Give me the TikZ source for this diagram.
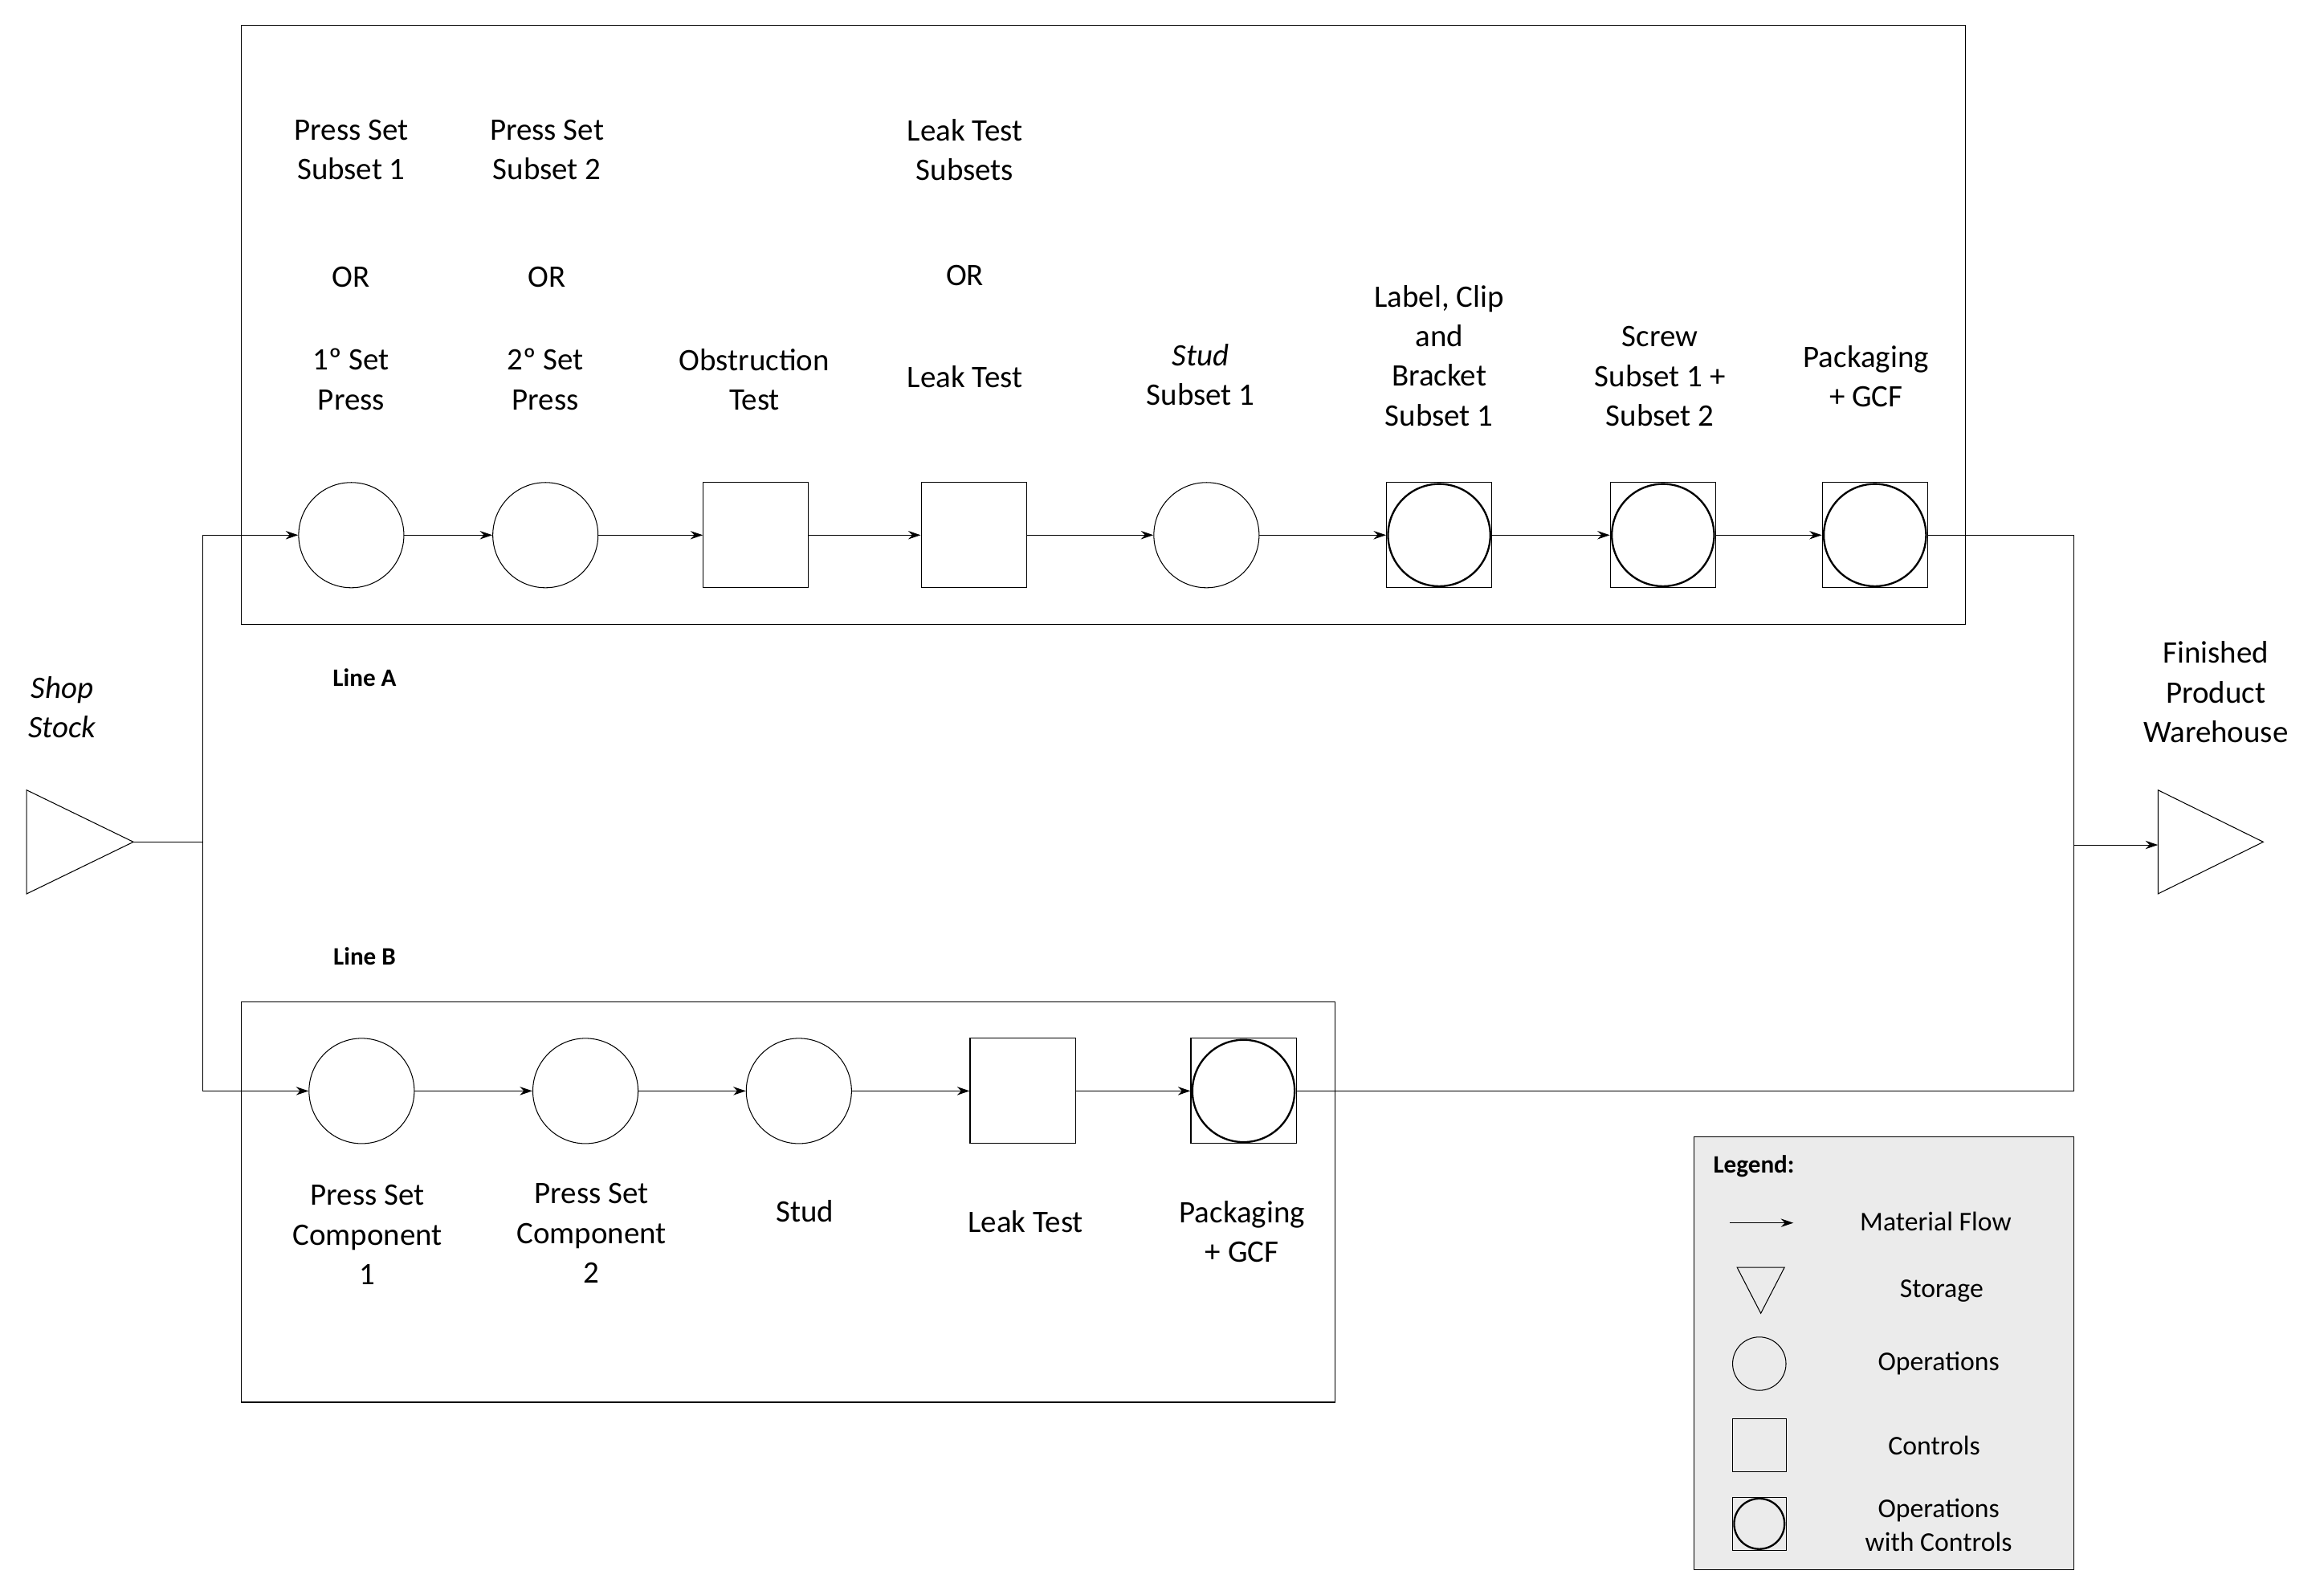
\documentclass[tikz,border=0pt]{standalone}
\usepackage{fontspec}
\setmainfont{Carlito}
\usetikzlibrary{arrows.meta}
\begin{document}
\begin{tikzpicture}[x=0.025cm,y=-0.025cm,
  every node/.style={font=\fontsize{15}{19}\selectfont,align=center},
  op/.style={circle,draw,minimum size=71*0.025cm,inner sep=0},
  ctl/.style={rectangle,draw,minimum size=71*0.025cm,inner sep=0},
  oc/.style={rectangle,draw,minimum size=71*0.025cm,inner sep=0,
     append after command={node[circle,draw,line width=0.9pt,minimum size=69*0.025cm,at=(\tikzlastnode.center)]{}}},
  fl/.style={-{Stealth[length=6pt,width=4pt]}},
  bl/.style={font=\fontsize{12}{14}\selectfont\bfseries}]
\useasboundingbox (0,0) rectangle (1568,1076);
\draw (163,17) rectangle (1326,421);
\draw (163,676) rectangle (901,946);
% row A
\node[op] (a1) at (237,361) {};
\node[op] (a2) at (368,361) {};
\node[ctl] (a3) at (510,361) {};
\node[ctl] (a4) at (657,361) {};
\node[op] (a5) at (814,361) {};
\node[oc] (a6) at (971,361) {};
\node[oc] (a7) at (1122,361) {};
\node[oc] (a8) at (1265,361) {};
% row B
\node[op] (b1) at (244,736) {};
\node[op] (b2) at (395,736) {};
\node[op] (b3) at (539,736) {};
\node[ctl] (b4) at (690,736) {};
\node[oc] (b5) at (839,736) {};
% storages
\draw (18,533) -- (18,603) -- (90,568) -- cycle;
\coordinate (ss) at (90,568);
\draw (1456,533) -- (1456,603) -- (1527,568) -- cycle;
\coordinate (fw) at (1456,570);
\coordinate (j) at (137,568);
\coordinate (r) at (1399,570);
\draw (ss) -- (j);
\draw[fl] (j) |- (a1);
\draw[fl] (j) |- (b1);
\draw[fl] (a1)--(a2); \draw[fl] (a2)--(a3); \draw[fl] (a3)--(a4); \draw[fl] (a4)--(a5);
\draw[fl] (a5)--(a6); \draw[fl] (a6)--(a7); \draw[fl] (a7)--(a8);
\draw[fl] (b1)--(b2); \draw[fl] (b2)--(b3); \draw[fl] (b3)--(b4); \draw[fl] (b4)--(b5);
\draw (a8.east) -| (r);
\draw (b5.east) -| (r);
\draw[fl] (r) -- (fw);
% labels A
\node at (237,101) {Press Set\\Subset 1};
\node at (237,187) {OR};
\node at (237,256) {1º Set\\Press};
\node at (369,101) {Press Set\\Subset 2};
\node at (369,187) {OR};
\node at (368,256) {2º Set\\Press};
\node at (509,256) {Obstruction\\Test};
\node at (651,101) {Leak Test\\Subsets};
\node at (651,186) {OR};
\node at (651,254) {Leak Test};
\node at (810,253) {\textit{Stud}\\Subset 1};
\node at (971,240) {Label, Clip\\and\\Bracket\\Subset 1};
\node at (1120,254) {Screw\\Subset 1 +\\Subset 2};
\node at (1259,254) {Packaging\\+ GCF};
% labels B
\node at (248,833) {Press Set\\Component\\1};
\node at (399,832) {Press Set\\Component\\2};
\node at (543,817) {Stud};
\node at (692,824) {Leak Test};
\node at (838,831) {Packaging\\+ GCF};
\node[bl] at (246,457) {Line A};
\node[bl] at (246,645) {Line B};
\node at (42,477) {\textit{Shop}\\\textit{Stock}};
\node at (1495,467) {Finished\\Product\\Warehouse};
% legend
\draw[fill=black!8] (1143,767) rectangle (1399,1059);
\node[bl,anchor=west] at (1151,787) {Legend:};
\coordinate (l1) at (1167,825); \coordinate (l2) at (1210,825);
\draw[fl] (l1) -- (l2);
\node[font=\fontsize{13}{16}\selectfont] at (1306,824) {Material Flow};
\draw (1172,855) -- (1204,855) -- (1188,886) -- cycle;
\node[font=\fontsize{13}{16}\selectfont] at (1310,871) {Storage};
\node[circle,draw,minimum size=36*0.025cm] at (1187,920) {};
\node[font=\fontsize{13}{16}\selectfont] at (1308,920) {Operations};
\node[rectangle,draw,minimum size=36*0.025cm] at (1187,975) {};
\node[font=\fontsize{13}{16}\selectfont] at (1305,975) {Controls};
\node[rectangle,draw,minimum size=36*0.025cm] at (1187,1028) {};
\node[circle,draw,line width=0.9pt,minimum size=34*0.025cm] at (1187,1028) {};
\node[font=\fontsize{13}{16}\selectfont] at (1308,1029) {Operations\\with Controls};
\end{tikzpicture}
\end{document}
